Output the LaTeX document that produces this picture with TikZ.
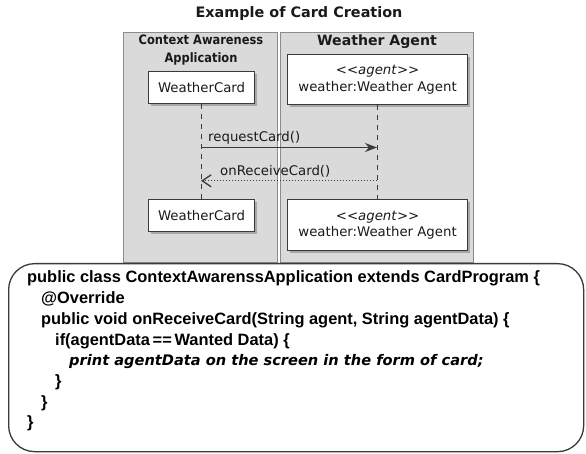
\documentclass[tikz,border=0pt]{standalone}
\usepackage{fontspec}
\setmainfont{DejaVu Sans}
\newfontfamily\codefont{Liberation Sans}
\usetikzlibrary{arrows.meta,shadows}
\definecolor{grpfill}{HTML}{DADADA}
\definecolor{grpline}{HTML}{8C8C8C}
\definecolor{ink}{HTML}{3A3A3A}
\definecolor{txt}{HTML}{1A1A1A}
\tikzset{
  grpbox/.style={draw=grpline, line width=1.3pt, fill=grpfill, anchor=north west, inner sep=0pt},
  grphead/.style={font=\bfseries, text=txt, align=center, inner sep=0pt},
  partbox/.style={draw=ink, line width=1.2pt, fill=white, anchor=north west, inner sep=0pt,
    drop shadow={shadow xshift=2.5pt, shadow yshift=-2.5pt, fill=gray!75, opacity=0.85},
    font=\fontsize{13.3}{16.5}\selectfont, text=txt, align=center},
  lifeline/.style={draw=ink, line width=1pt, dash pattern=on 5pt off 5pt},
  msg/.style={draw=ink, line width=1.2pt, -{Stealth[length=12pt,width=9pt,inset=4pt]}},
  ret/.style={draw=ink, line width=1.1pt, dash pattern=on 1.5pt off 1.5pt, -{Straight Barb[length=9pt,width=12pt,line width=1.3pt]}},
  msglabel/.style={font=\fontsize{13.3}{15}\selectfont, text=txt, anchor=base west, inner sep=0pt},
  codeline/.style={font=\codefont\bfseries\fontsize{16.4}{19}\selectfont, anchor=base west, inner sep=0pt, text=black},
  codeit/.style={font=\bfseries\itshape\fontsize{14.6}{18}\selectfont, anchor=base west, inner sep=0pt, text=black},
}
\begin{document}
\begin{tikzpicture}[x=1pt,y=-1pt]
\useasboundingbox[fill=white] (0,0) rectangle (586,454);
% title
\node[font=\bfseries\fontsize{14.4}{16}\selectfont, text=txt, inner sep=0pt] (title) at (299,14) {Example of Card Creation};
% group boxes
\node[grpbox, minimum width=154pt, minimum height=230pt] (ctx) at (123,32) {};
\node[grpbox, minimum width=193pt, minimum height=230pt] (wag) at (280,32) {};
\node[grphead, font=\bfseries\fontsize{13}{18}\selectfont] (ctxh) at (201,50.5) {\scalebox{0.88}[1]{Context Awareness}\\\scalebox{0.88}[1]{Application}};
\node[grphead, font=\bfseries\fontsize{14.1}{16}\selectfont] (wagh) at (377,41.5) {Weather Agent};
% participants
\node[partbox, minimum width=106pt, minimum height=32pt] (wc1) at (148,71) {WeatherCard};
\node[partbox, minimum width=180pt, minimum height=50pt] (ag1) at (287,54) {<\kern0pt<\textit{agent}>\kern0pt>\\weather:Weather Agent};
\node[partbox, minimum width=106pt, minimum height=32pt] (wc2) at (148,199) {WeatherCard};
\node[partbox, minimum width=180pt, minimum height=51pt] (ag2) at (287,199) {<\kern0pt<\textit{agent}>\kern0pt>\\weather:Weather Agent};
% lifelines
\draw[lifeline] (wc1.south) -- (wc2.north);
\draw[lifeline] (ag1.south) -- (ag2.north);
% messages
\coordinate (reqS) at (201,147.5);
\coordinate (reqE) at (377,147.5);
\coordinate (retS) at (377,180.8);
\coordinate (retE) at (201,180.8);
\draw[msg] (reqS) -- (reqE);
\draw[ret] (retS) -- (retE);
\node[msglabel] (reql) at (208,142) {requestCard()};
\node[msglabel] (retl) at (220,176) {onReceiveCard()};
% code box
\node[draw=ink, line width=1.3pt, rounded corners=26pt, anchor=north west, minimum width=575pt, minimum height=188pt, inner sep=0pt] (code) at (8,263) {};
\node[codeline] (c1) at (27,283) {public class ContextAwarenssApplication extends CardProgram \{};
\node[codeline] (c2) at (41,303.7) {@Override};
\node[codeline] (c3) at (41,324.4) {public void onReceiveCard(String agent, String agentData) \{};
\node[codeline] (c4) at (55,345.1) {if(agentData\,==\,Wanted Data) \{};
\node[codeit] (c5) at (69,365.8) {print agentData on the screen in the form of card;};
\node[codeline] (c6) at (55,386.5) {\}};
\node[codeline] (c7) at (41,407.2) {\}};
\node[codeline] (c8) at (27,427.9) {\}};
\end{tikzpicture}
\end{document}
